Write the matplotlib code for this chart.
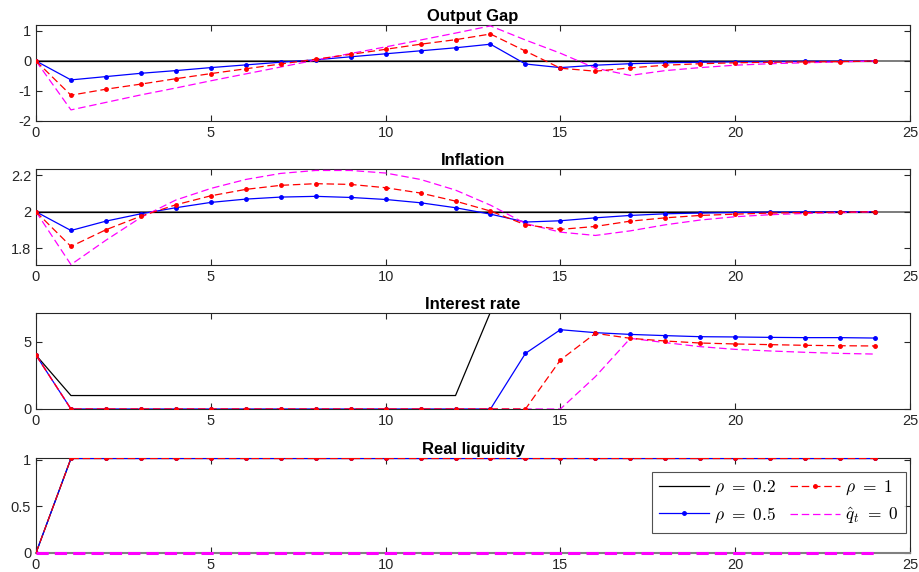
import numpy as np
import matplotlib
matplotlib.use("Agg")
import matplotlib.pyplot as plt
from matplotlib.lines import Line2D

plt.rcParams['font.family'] = ['Liberation Sans', 'DejaVu Sans']
plt.rcParams['mathtext.fontset'] = 'cm'
plt.rcParams['axes.unicode_minus'] = False

t = list(range(25))
titles = ["Output Gap", "Inflation", "Interest rate", "Real liquidity"]
legend_labels = [r"$\rho\ =\ 0.2$", r"$\rho\ =\ 0.5$", r"$\rho\ =\ 1$", r"$\hat{q}_t\ =\ 0$"]

# Output gap
gap_rho02 = [0.0] * 25
gap_rho05 = [0, -0.63, -0.52, -0.41, -0.32, -0.22, -0.13, -0.04, 0.04, 0.14, 0.24, 0.34, 0.44,
             0.56, -0.10, -0.22, -0.14, -0.09, -0.06, -0.04, -0.03, -0.02, -0.01, -0.01, 0.0]
gap_rho1 = [0, -1.14, -0.94, -0.77, -0.59, -0.42, -0.26, -0.10, 0.06, 0.22, 0.39, 0.56, 0.71,
            0.90, 0.33, -0.24, -0.34, -0.23, -0.14, -0.09, -0.06, -0.04, -0.03, -0.02, 0.0]
gap_q0 = [0, -1.63, -1.38, -1.13, -0.90, -0.66, -0.43, -0.20, 0.03, 0.25, 0.47, 0.70, 0.93,
          1.17, 0.70, 0.26, -0.24, -0.48, -0.32, -0.22, -0.14, -0.09, -0.06, -0.03, 0.0]

# Inflation
inf_rho02 = [2.0] * 25
inf_rho05 = [2.0, 1.898, 1.949, 1.989, 2.022, 2.051, 2.069, 2.080, 2.084, 2.078, 2.067, 2.049, 2.022,
             1.987, 1.944, 1.951, 1.967, 1.980, 1.989, 1.993, 1.996, 1.998, 1.999, 2.0, 2.0]
inf_rho1 = [2.0, 1.811, 1.902, 1.976, 2.038, 2.087, 2.122, 2.144, 2.153, 2.149, 2.131, 2.102, 2.058,
            2.004, 1.929, 1.904, 1.920, 1.949, 1.967, 1.980, 1.987, 1.993, 1.996, 1.998, 2.0]
inf_q0 = [2.0, 1.712, 1.845, 1.969, 2.064, 2.127, 2.176, 2.209, 2.225, 2.225, 2.211, 2.176, 2.118,
          2.036, 1.936, 1.889, 1.871, 1.896, 1.929, 1.955, 1.973, 1.984, 1.991, 1.995, 2.0]

# Interest rate
int_rho02 = [4.0] + [1.0] * 12 + [7.2] * 12
int_rho05 = [4.0] + [0.0] * 13 + [4.13, 5.89, 5.67, 5.54, 5.45, 5.37, 5.35, 5.32, 5.30, 5.30, 5.27]
int_rho1 = [4.0] + [0.0] * 14 + [3.64, 5.62, 5.25, 5.05, 4.90, 4.83, 4.78, 4.73, 4.70, 4.68]
int_q0 = [4.0] + [0.0] * 15 + [2.40, 5.25, 4.93, 4.63, 4.43, 4.31, 4.21, 4.13, 4.08]

# Real liquidity
liq_rho02 = [0.0] + [1.015] * 24
liq_rho05 = [0.0] + [1.015] * 24
liq_rho1 = [0.0] + [1.015] * 24
liq_q0 = [0.0] * 25

panels = [
    (gap_rho02, gap_rho05, gap_rho1, gap_q0, 0.0, (-2, 1.2), [-2, -1, 0, 1], None),
    (inf_rho02, inf_rho05, inf_rho1, inf_q0, 2.0, (1.71, 2.233), [1.8, 2.0, 2.2], ["1.8", "2", "2.2"]),
    (int_rho02, int_rho05, int_rho1, int_q0, None, (0, 7.13), [0, 5], None),
    (liq_rho02, liq_rho05, liq_rho1, liq_q0, None, (0, 1.02), [0, 0.5, 1], ["0", "0.5", "1"]),
]

fig = plt.figure(figsize=(9.2, 5.72), dpi=100)
W, H = 920.0, 572.0
left, right = 36 / W, 910 / W
tops = [25, 169, 313, 458]
bots = [121, 265, 409, 553]

dash = (0, (6, 3))
for i, (b, bl, r, m, ref, yl, yt, ytl) in enumerate(panels):
    ax = fig.add_axes([left, 1 - bots[i] / H, right - left, (bots[i] - tops[i]) / H])
    if ref is not None:
        ax.axhline(ref, color='0.35', lw=1.1, zorder=1)
    ax.plot(t, b, color='black', lw=0.9, zorder=2)
    ax.plot(t, bl, color='blue', lw=0.9, marker='o', ms=2.5, zorder=3)
    if i == 3:
        ax.plot(t, m, color='magenta', lw=2.2, linestyle=(0, (4, 2)), zorder=6, clip_on=False)
    else:
        ax.plot(t, m, color='magenta', lw=0.9, linestyle=dash, zorder=4)
    ax.plot(t, r, color='red', lw=0.9, linestyle=dash, marker='o', ms=2.5, zorder=5)
    ax.set_xlim(0, 25)
    ax.set_ylim(*yl)
    ax.set_xticks([0, 5, 10, 15, 20, 25])
    ax.set_yticks(yt)
    if ytl is not None:
        ax.set_yticklabels(ytl)
    ax.tick_params(direction='in', top=True, right=True, labelsize=10.5, length=4,
                   colors='0.15', labelcolor='0.15')
    for s in ax.spines.values():
        s.set_color('0.15')
        s.set_linewidth(0.8)
    if i == 3:
        ax.spines['bottom'].set_color('0.5')
        ax.spines['bottom'].set_linewidth(1.5)
    ax.set_title(titles[i], fontsize=12, fontweight='bold', pad=3)
    if i == 3:
        handles = [
            Line2D([], [], color='black', lw=0.9),
            Line2D([], [], color='blue', lw=0.9, marker='o', ms=2.5),
            Line2D([], [], color='red', lw=0.9, linestyle=dash, marker='o', ms=2.5),
            Line2D([], [], color='magenta', lw=0.9, linestyle=dash),
        ]
        leg = ax.legend(handles, legend_labels, ncol=2, loc='lower right',
                        bbox_to_anchor=(0.9955, 0.21), borderaxespad=0.0, fontsize=12.5,
                        frameon=True, fancybox=False, edgecolor='0.15', handlelength=2.9,
                        columnspacing=0.8, handletextpad=0.3, borderpad=0.4,
                        labelspacing=0.45)
        leg.get_frame().set_linewidth(0.8)

fig.savefig("out.png", dpi=100)
